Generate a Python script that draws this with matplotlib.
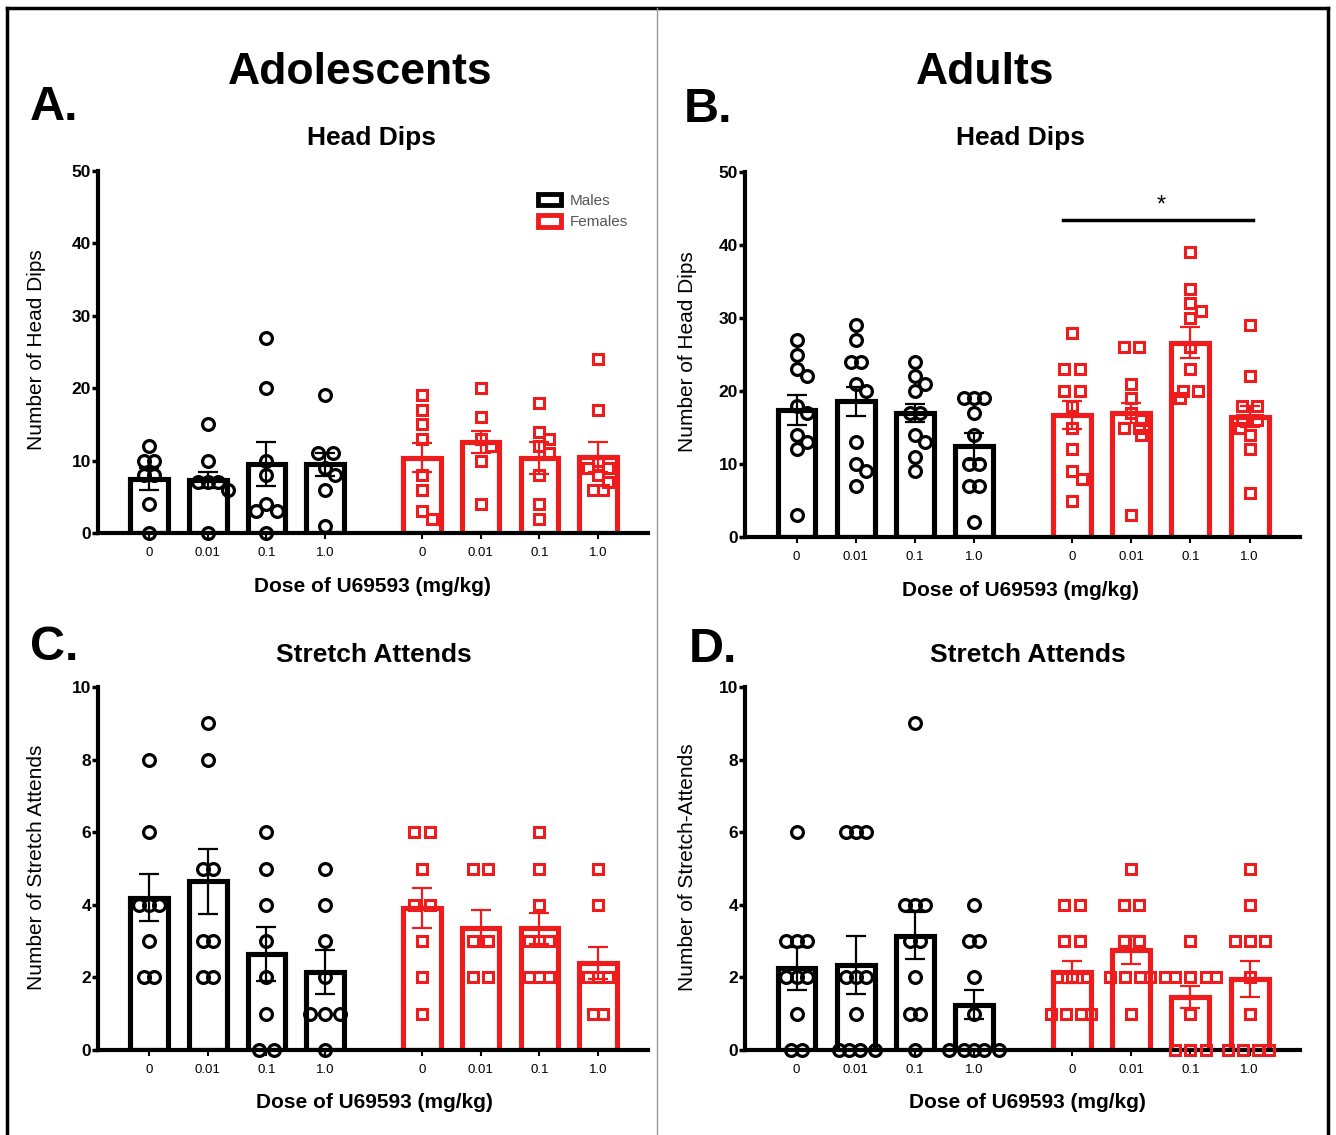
import matplotlib
matplotlib.use("Agg")
import matplotlib.pyplot as plt
import numpy as np
from matplotlib.lines import Line2D
from matplotlib.patches import Patch

plt.rcParams["font.family"] = ["Liberation Sans", "DejaVu Sans"]

# --- data ---
doses = ["0", "0.01", "0.1", "1.0"]

# A. adolescents, head dips
a_male_pts = [[12, 10, 10, 8, 8, 4, 0], [15, 10, 7, 7, 7, 6, 0],
              [27, 20, 10, 8, 4, 3, 3, 0], [19, 11, 11, 9, 8, 6, 1]]
a_female_pts = [[19, 17, 15, 13, 8, 6, 3, 2], [20, 16, 13, 12, 10, 4],
                [18, 14, 13, 12, 11, 8, 4, 2], [24, 17, 10, 9, 9, 8, 7, 6, 6]]
a_male_mean = [7.5, 7.3, 9.5, 9.5]
a_male_sem = [1.5, 1.1, 3.0, 1.6]
a_female_mean = [10.4, 12.6, 10.3, 10.5]
a_female_sem = [2.0, 1.5, 2.2, 2.1]

# B. adults, head dips
b_male_pts = [[27, 25, 23, 22, 18, 17, 14, 13, 12, 3],
              [29, 27, 24, 24, 21, 20, 13, 10, 9, 7],
              [24, 22, 21, 20, 17, 17, 14, 13, 11, 9],
              [19, 19, 19, 17, 14, 10, 10, 7, 7, 2]]
b_female_pts = [[28, 23, 23, 20, 20, 18, 15, 12, 9, 8, 5],
                [26, 26, 21, 19, 17, 16, 15, 15, 14, 3],
                [39, 34, 32, 31, 30, 26, 23, 20, 20, 19],
                [29, 22, 18, 18, 16, 16, 15, 14, 12, 6]]
b_male_mean = [17.4, 18.6, 17.0, 12.4]
b_male_sem = [2.1, 2.0, 1.2, 1.9]
b_female_mean = [16.7, 17.0, 26.6, 16.5]
b_female_sem = [1.9, 1.4, 2.1, 1.4]

# C. adolescents, stretch attends
c_male_pts = [[8, 6, 4, 4, 4, 3, 2, 2], [9, 8, 5, 5, 3, 3, 2, 2],
              [6, 5, 4, 3, 2, 1, 0, 0], [5, 4, 3, 2, 1, 1, 1, 0]]
c_female_pts = [[6, 6, 5, 4, 4, 3, 2, 1], [5, 5, 3, 3, 2, 2],
                [6, 5, 4, 3, 3, 3, 2, 2, 2], [5, 4, 2, 2, 2, 1, 1]]
c_male_mean = [4.2, 4.65, 2.65, 2.15]
c_male_sem = [0.65, 0.9, 0.75, 0.6]
c_female_mean = [3.9, 3.35, 3.35, 2.4]
c_female_sem = [0.55, 0.5, 0.42, 0.45]

# D. adults, stretch attends
d_male_pts = [[6, 3, 3, 3, 2, 2, 2, 1, 0, 0],
              [6, 6, 6, 2, 2, 2, 1, 0, 0, 0, 0],
              [9, 4, 4, 4, 3, 3, 2, 1, 1, 0],
              [4, 3, 3, 2, 1, 0, 0, 0, 0, 0]]
d_female_pts = [[4, 4, 3, 3, 2, 2, 2, 1, 1, 1, 1],
                [5, 4, 4, 3, 3, 2, 2, 2, 2, 1],
                [3, 2, 2, 2, 2, 2, 1, 0, 0, 0],
                [5, 4, 3, 3, 3, 2, 1, 0, 0, 0, 0]]
d_male_mean = [2.25, 2.35, 3.15, 1.25]
d_male_sem = [0.6, 0.8, 0.65, 0.4]
d_female_mean = [2.15, 2.75, 1.45, 1.95]
d_female_sem = [0.3, 0.38, 0.3, 0.5]

RED = "#ee1c1c"
W, H = 1336, 1135


def fx(x):
    return x / W


def fy(y):
    return 1 - y / H


def swarm(ax, x0, vals, diam):
    # spread overlapping points sideways (in pixels), like GraphPad scatter
    pts = ax.transData.transform([(x0, v) for v in vals])
    placed = []
    step = diam * 0.36
    for xp, yp in pts:
        for k in [0, 1, -1, 2, -2, 3, -3, 4, -4, 5, -5, 6, -6]:
            cx = xp + k * step
            if all(np.hypot(cx - px, yp - py) >= diam * 0.72 for px, py in placed):
                break
        placed.append([cx, yp])
    placed = np.array(placed)
    # centre rows of equal values on the bar
    x_c = pts[0][0]
    for v in set(vals):
        idx = [i for i, u in enumerate(vals) if u == v]
        if len(idx) > 1:
            placed[idx, 0] += x_c - placed[idx, 0].mean()
    return ax.transData.inverted().transform(placed)[:, 0]


def draw_panel(rect, male_pts, female_pts, male_mean, male_sem,
               female_mean, female_sem, ymax, ystep):
    ax = fig.add_axes(rect)
    pos = [0, 1, 2, 3, 4.65, 5.65, 6.65, 7.65]
    ax.set_xlim(-0.87, 8.5)
    ax.set_ylim(0, ymax)
    means = male_mean + female_mean
    sems = male_sem + female_sem
    cols = ["black"] * 4 + [RED] * 4
    ax.bar(pos, means, width=0.64, facecolor="none", edgecolor=cols,
           linewidth=3.7, zorder=2)
    for i, p in enumerate(pos):
        vals = (male_pts + female_pts)[i]
        xs = swarm(ax, p, vals, 14)
        if i < 4:
            ax.plot(xs, vals, "o", ms=8.5, mfc="none", mec="black", mew=2.3,
                    zorder=3, clip_on=False)
        else:
            ax.plot(xs, vals, "s", ms=7.5, mfc="none", mec=RED, mew=2.2,
                    zorder=3, clip_on=False)
        ax.errorbar(p, means[i], yerr=sems[i], fmt="none", ecolor=cols[i],
                    elinewidth=1.6, capsize=7, capthick=1.6, zorder=4)
    for s in ["top", "right"]:
        ax.spines[s].set_visible(False)
    for s in ["left", "bottom"]:
        ax.spines[s].set_linewidth(3)
    ax.set_yticks(np.arange(0, ymax + 0.1, ystep))
    ax.set_xticks(pos)
    ax.set_xticklabels(doses * 2, fontsize=9.5)
    ax.tick_params(axis="y", length=4, width=2.5, labelsize=12.5, pad=1)
    ax.tick_params(axis="x", length=4, width=1.5, pad=6)
    for t in ax.get_yticklabels():
        t.set_fontweight("bold")
    return ax, pos


fig = plt.figure(figsize=(W / 100, H / 100), dpi=100)

ax_a, pos = draw_panel([fx(98), fy(533), fx(648) - fx(98), fy(171) - fy(533)],
                       a_male_pts, a_female_pts, a_male_mean, a_male_sem,
                       a_female_mean, a_female_sem, 50, 10)
ax_b, _ = draw_panel([fx(745), fy(537), fx(1300) - fx(745), fy(172) - fy(537)],
                     b_male_pts, b_female_pts, b_male_mean, b_male_sem,
                     b_female_mean, b_female_sem, 50, 10)
ax_c, _ = draw_panel([fx(98), fy(1050), fx(648) - fx(98), fy(687) - fy(1050)],
                     c_male_pts, c_female_pts, c_male_mean, c_male_sem,
                     c_female_mean, c_female_sem, 10, 2)
ax_d, _ = draw_panel([fx(745), fy(1050), fx(1300) - fx(745), fy(687) - fy(1050)],
                     d_male_pts, d_female_pts, d_male_mean, d_male_sem,
                     d_female_mean, d_female_sem, 10, 2)

# significance bar in B
ax_b.plot([pos[4] - 0.15, pos[7] + 0.05], [43.4, 43.4], color="black", lw=2.5,
          clip_on=False)
ax_b.text((pos[4] + pos[7]) / 2, 43.9, "*", ha="center", va="bottom",
          fontsize=17)

# legend in A
handles = [Patch(facecolor="white", edgecolor="black", linewidth=3.5),
           Patch(facecolor="white", edgecolor=RED, linewidth=3.5)]
leg = ax_a.legend(handles, ["Males", "Females"], loc="upper left",
                  bbox_to_anchor=(0.775, 0.975), frameon=False, fontsize=11,
                  handlelength=1.5, handleheight=0.8, labelspacing=0.45,
                  handletextpad=0.6)
for t in leg.get_texts():
    t.set_color("#555555")

# texts
fig.text(fx(360), fy(73), "Adolescents", ha="center", va="center",
         fontsize=32, fontweight="bold")
fig.text(fx(985), fy(73), "Adults", ha="center", va="center",
         fontsize=32, fontweight="bold")
for lab, x, y in [("A.", 54, 108), ("B.", 708, 110), ("C.", 54, 648),
                  ("D.", 713, 650)]:
    fig.text(fx(x), fy(y), lab, ha="center", va="center", fontsize=35,
             fontweight="bold")
for lab, x, y in [("Head Dips", 372, 138), ("Head Dips", 1020, 138),
                  ("Stretch Attends", 374, 655), ("Stretch Attends", 1028, 655)]:
    fig.text(fx(x), fy(y), lab, ha="center", va="center", fontsize=19,
             fontweight="bold")
for x, y in [(372, 586), (1020, 590), (374, 1103), (1027, 1103)]:
    fig.text(fx(x), fy(y), "Dose of U69593 (mg/kg)", ha="center", va="center",
             fontsize=15, fontweight="bold")
for lab, x, y in [("Number of Head Dips", 37, 350), ("Number of Head Dips", 688, 352),
                  ("Number of Stretch Attends", 37, 867),
                  ("Number of Stretch-Attends", 688, 867)]:
    fig.text(fx(x), fy(y), lab, ha="center", va="center", rotation=90,
             fontsize=15)

# outer frame and divider
fig.add_artist(Line2D([fx(7), fx(1328)], [fy(8), fy(8)], color="black", lw=2.5))
fig.add_artist(Line2D([fx(7), fx(7)], [0, fy(8)], color="black", lw=2.5))
fig.add_artist(Line2D([fx(1328), fx(1328)], [0, fy(8)], color="black", lw=2.5))
fig.add_artist(Line2D([fx(657), fx(657)], [0, fy(8)], color="#999999", lw=1))

fig.savefig("out.png", dpi=100, facecolor="white")
